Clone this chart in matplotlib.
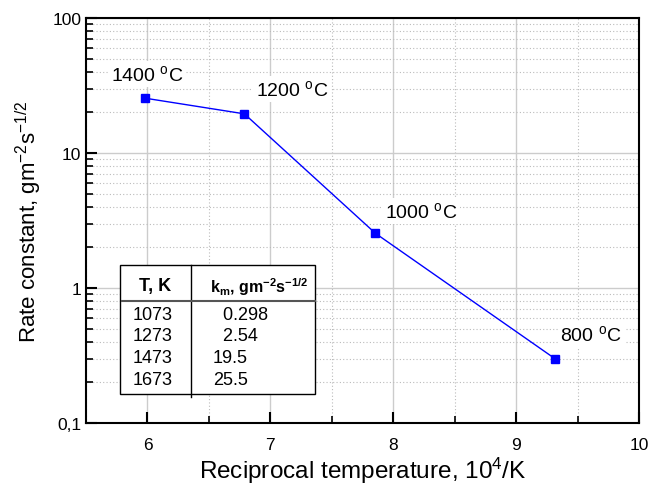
import matplotlib.pyplot as plt
from matplotlib.ticker import FixedLocator, FuncFormatter, LogLocator, MultipleLocator

plt.rcParams['font.family'] = ['Liberation Sans', 'DejaVu Sans']
plt.rcParams['mathtext.fontset'] = 'custom'
plt.rcParams['mathtext.rm'] = 'Liberation Sans'
plt.rcParams['mathtext.default'] = 'regular'

# data: temperature (K) and rate constant
temps_K = [1673, 1473, 1273, 1073]
k_m = [25.5, 19.5, 2.54, 0.298]
labels = ['1400 $^{o}$C', '1200 $^{o}$C', '1000 $^{o}$C', '800 $^{o}$C']
recip = [1e4 / t for t in temps_K]

# table contents
table_T = ['1073', '1273', '1473', '1673']
table_k = ['  0.298', '  2.54', '19.5', '25.5']

fig = plt.figure(figsize=(6.5, 4.85), dpi=100)
ax = fig.add_axes([86 / 650, 61 / 485, 553 / 650, 405 / 485])

ax.plot(recip, k_m, color='#0000ff', lw=1, marker='s', ms=5.5)
ax.set_yscale('log')
ax.set_xlim(5.5, 10)
ax.set_ylim(0.1, 100)

ax.xaxis.set_major_locator(FixedLocator([6, 7, 8, 9, 10]))
ax.xaxis.set_minor_locator(MultipleLocator(0.5))
ax.yaxis.set_major_locator(FixedLocator([0.1, 1, 10, 100]))
ax.yaxis.set_minor_locator(LogLocator(base=10, subs=range(2, 10)))
ax.yaxis.set_major_formatter(FuncFormatter(lambda v, p: '0,1' if v < 0.5 else '%d' % v))

ax.grid(which='major', color='#cccccc', lw=1, ls='-')
ax.grid(which='minor', color='#bbbbbb', lw=0.8, ls=(0, (1, 2)))
ax.set_axisbelow(True)

ax.tick_params(which='both', direction='in', top=False, right=False, labelsize=12.5)
ax.tick_params(which='major', length=8, width=1.5)
ax.tick_params(which='minor', length=5, width=1.2)
ax.tick_params(axis='x', pad=10)
for s in ax.spines.values():
    s.set_linewidth(1.5)

ax.set_xlabel('Reciprocal temperature, 10$^{4}$/K', fontsize=17.5, labelpad=2)
ax.set_ylabel('Rate constant, gm$^{-2}$s$^{-1/2}$', fontsize=16, labelpad=6)

offsets = [(0.02, 1.51), (0.39, 1.53), (0.37, 1.46), (0.29, 1.53)]
for x, y, lab, (dx, fy) in zip(recip, k_m, labels, offsets):
    ax.text(x + dx, y * fy, lab, fontsize=14, ha='center', va='center',
            bbox=dict(facecolor='white', edgecolor='none', pad=2))

# inset table, in figure pixels
def fx(px):
    return px / 650

def fy(py):
    return 1 - py / 485

fig.patches.append(plt.Rectangle((fx(120), fy(395)), fx(315) - fx(120), fy(266) - fy(395),
                                 transform=fig.transFigure, facecolor='white',
                                 edgecolor='black', lw=1))
fig.add_artist(plt.Line2D([fx(191), fx(191)], [fy(266), fy(398)], color='black', lw=1))
fig.add_artist(plt.Line2D([fx(122), fx(315)], [fy(302), fy(302)], color='#555555', lw=1.5))
fig.text(fx(155), fy(287), 'T, K', fontsize=13, fontweight='bold', ha='center', va='center')
fig.text(fx(259), fy(287), 'k$_{m}$, gm$^{-2}$s$^{-1/2}$', fontsize=11.5, fontweight='bold',
         ha='center', va='center')
for i, (t, k) in enumerate(zip(table_T, table_k)):
    yy = fy(315 + 21.7 * i)
    fig.text(fx(133), yy, t, fontsize=13, ha='left', va='center')
    fig.text(fx(213), yy, k, fontsize=13, ha='left', va='center')

fig.savefig('out.png', dpi=100)
